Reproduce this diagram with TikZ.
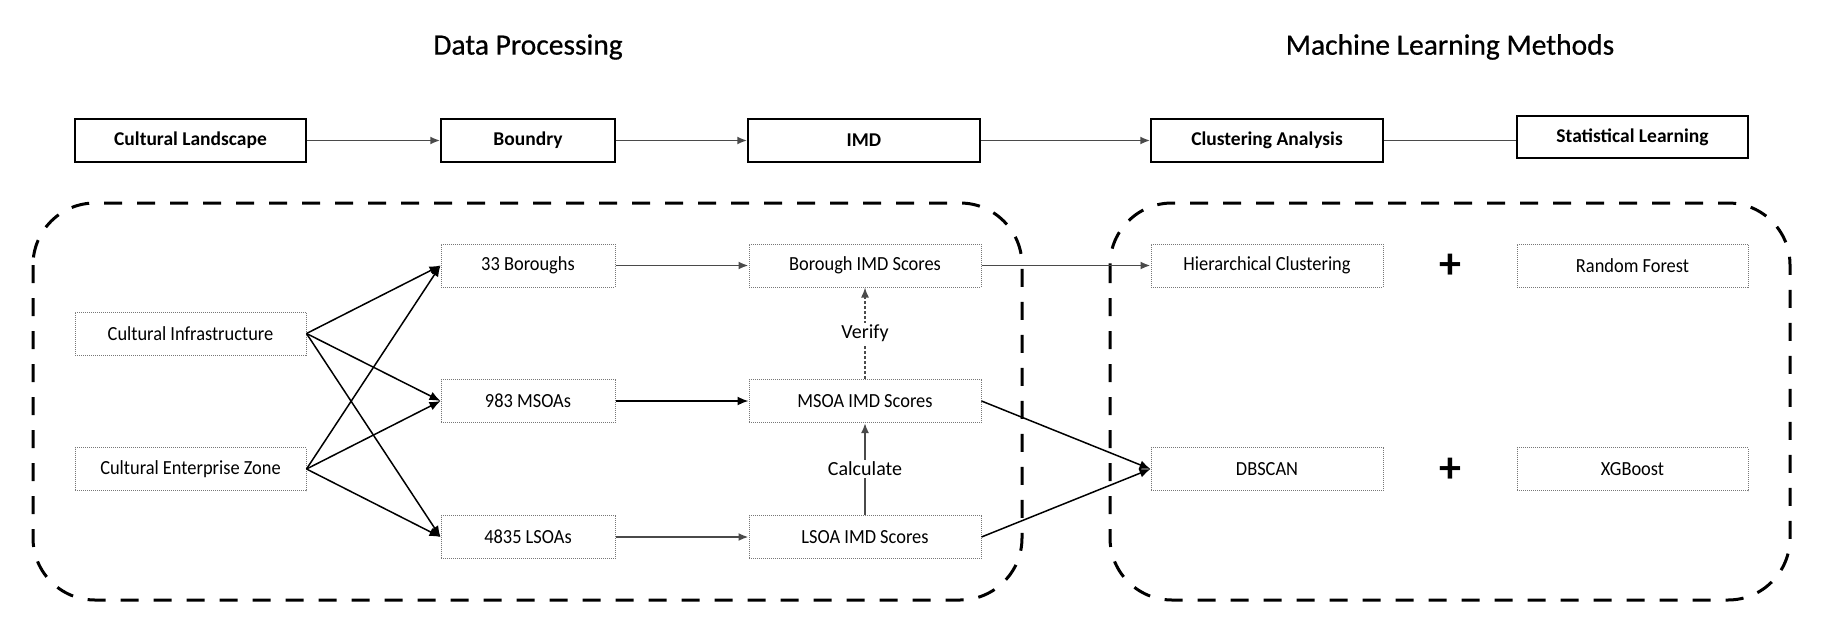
\documentclass[tikz,border=0pt]{standalone}
\usepackage{fontspec}
\setmainfont{Carlito}
\newfontfamily\boxfont{Carlito}[FakeStretch=0.92]
\newfontfamily\titlefont{Carlito}[FakeBold=0.6]
\usetikzlibrary{arrows.meta}
\definecolor{linegray}{HTML}{4A4A4A}
\definecolor{dotgray}{HTML}{777777}
\tikzset{
  topbox/.style={draw=black, line width=1.5pt, minimum height=43pt, inner sep=0pt,
    font=\fontsize{19.5}{22}\selectfont\bfseries},
  subbox/.style={draw=dotgray, line width=1pt, dash pattern=on 1pt off 1pt,
    minimum height=43pt, inner sep=0pt, font=\boxfont\fontsize{20}{24}\selectfont},
  title/.style={font=\titlefont\fontsize{29.5}{34}\selectfont, inner sep=0pt},
  frame/.style={draw=black, line width=3pt, dash pattern=on 18pt off 15pt, rounded corners=62pt},
  grayarrow/.style={draw=linegray, line width=1.9pt, -{Latex[length=10pt,width=8pt]}},
  blackarrow/.style={draw=black, line width=1.5pt, -{Latex[length=11pt,width=9pt]}},
  plusnode/.style={font=\fontsize{44}{44}\selectfont\bfseries, inner sep=0pt},
  lab/.style={fill=white, inner sep=2pt, font=\fontsize{20}{24}\selectfont}
}
\begin{document}
\begin{tikzpicture}[x=1pt, y=-1pt]
\useasboundingbox (0,0) rectangle (1831,637);

% titles
\node[title] (t1) at (528,47) {Data Processing};
\node[title] (t2) at (1450,47) {Machine Learning Methods};

% frames
\draw[frame] (33,203) rectangle (1022,600);
\draw[frame] (1110,203) rectangle (1790,600);

% top row
\node[topbox, minimum width=231pt] (cl) at (190.5,140.5) {Cultural Landscape};
\node[topbox, minimum width=174pt] (bd) at (528,140.5) {Boundry};
\node[topbox, minimum width=232pt] (imd) at (864,140.5) {IMD};
\node[topbox, minimum width=232pt] (ca) at (1267,140.5) {Clustering Analysis};
\node[topbox, minimum width=231pt, minimum height=42pt] (sl) at (1632.5,137) {Statistical Learning};

\draw[grayarrow] (cl) -- (bd);
\draw[grayarrow] (bd) -- (imd);
\draw[grayarrow] (imd) -- (ca);
\draw[draw=linegray, line width=1.9pt] (ca.east) -- (ca.east -| sl.west);

% lower left
\node[subbox, minimum width=231pt] (ci) at (190.5,333.5) {Cultural Infrastructure};
\node[subbox, minimum width=231pt] (cez) at (190.5,469) {Cultural Enterprise Zone};
\node[subbox, minimum width=174pt] (b33) at (528,265.5) {33 Boroughs};
\node[subbox, minimum width=174pt] (m983) at (528,401) {983 MSOAs};
\node[subbox, minimum width=174pt] (l4835) at (528,537) {4835 LSOAs};
\node[subbox, minimum width=232pt] (bis) at (865,265.5) {Borough IMD Scores};
\node[subbox, minimum width=232pt] (mis) at (865,401) {MSOA IMD Scores};
\node[subbox, minimum width=232pt] (lis) at (865,537) {LSOA IMD Scores};

% lower right
\node[subbox, minimum width=232pt] (hc) at (1267,265.5) {Hierarchical Clustering};
\node[subbox, minimum width=231pt] (rf) at (1632.5,265.5) {Random Forest};
\node[subbox, minimum width=232pt] (db) at (1267,469) {DBSCAN};
\node[subbox, minimum width=231pt] (xg) at (1632.5,469) {XGBoost};
\node[plusnode] (p1) at (1450,266) {+};
\node[plusnode] (p2) at (1450,470) {+};

% crossing arrows
\foreach \s in {ci,cez}{
  \foreach \t in {b33,m983,l4835}{
    \draw[blackarrow] (\s.east) -- (\t.west);
  }
}

\draw[grayarrow] (b33) -- (bis);
\draw[blackarrow, line width=1.7pt] (m983) -- (mis);
\draw[grayarrow] (l4835) -- (lis);

\draw[grayarrow, line width=1.5pt, dash pattern=on 3pt off 2pt] (mis.north) -- node[lab] (vf) {Verify} (bis.south);
\draw[grayarrow] (lis.north) -- node[lab] (cc) {Calculate} (mis.south);

\draw[grayarrow] (bis.east) -- (hc.west);
\draw[blackarrow] (mis.east) -- (db.west);
\draw[blackarrow] (lis.east) -- (db.west);
\end{tikzpicture}
\end{document}
